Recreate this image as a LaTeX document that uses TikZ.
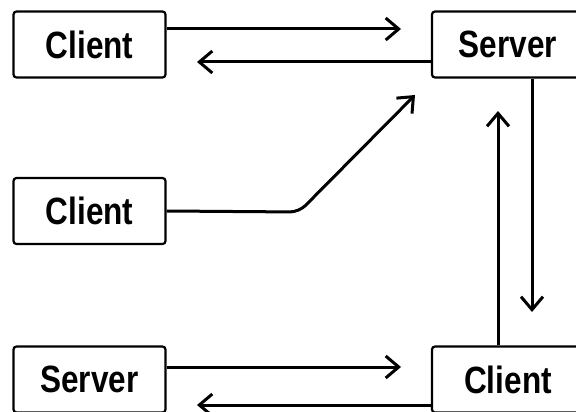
\documentclass[tikz,border=0pt]{standalone}
\usepackage{fontspec}
\usetikzlibrary{arrows.meta}
\newfontfamily\boxfont[FakeStretch=0.83]{Liberation Sans}
\begin{document}
\begin{tikzpicture}[x=1pt,y=-1pt,
  box/.style={draw, line width=2.2pt, rounded corners=3pt,
    minimum width=152pt, minimum height=66pt, inner sep=0pt,
    font=\boxfont\bfseries\fontsize{38}{40}\selectfont},
  link/.style={line width=3pt, -{Straight Barb[length=13pt,width=22pt]}}]
\useasboundingbox (0,0) rectangle (576,412);
\clip (0,0) rectangle (576,412);

% boxes
\node[box] (c1) at (89.5,44.5) {Client};
\node[box] (s1) at (508,44.5) {Server};
\node[box] (c2) at (89.5,211) {Client};
\node[box] (s2) at (89.5,379.5) {Server};
\node[box] (c3) at (508,379.5) {Client};

% free ends of the connectors
\coordinate (t1) at (401,29);
\coordinate (t2) at (197,62);
\coordinate (bend) at (299,212);
\coordinate (t3) at (415,95);
\coordinate (t4) at (532,312);
\coordinate (t5) at (498,111);
\coordinate (t6) at (401,367);
\coordinate (t7) at (197,405);

% top pair
\draw[link] (c1.east |- t1) -- (t1);
\draw[link] (s1.west |- t2) -- (t2);

% middle client up to the server
\draw[link, rounded corners=9pt] (c2.east) -- (bend) -- (t3);

% vertical pair
\draw[link] (s1.south -| t4) -- (t4);
\draw[link] (c3.north -| t5) -- (t5);

% bottom pair
\draw[link] (s2.east |- t6) -- (t6);
\draw[link] (c3.west |- t7) -- (t7);
\end{tikzpicture}
\end{document}
